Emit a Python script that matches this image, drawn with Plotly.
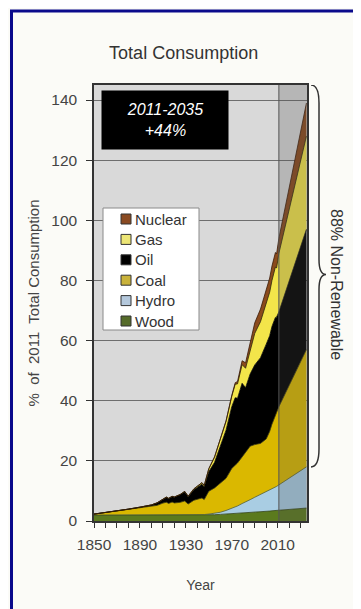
import plotly.graph_objects as go

years = [1850, 1860, 1870, 1880, 1890, 1900, 1905, 1910, 1913, 1915, 1918, 1920, 1925, 1929,
         1932, 1937, 1940, 1944, 1946, 1950, 1955, 1960, 1965, 1970, 1973, 1975, 1979, 1982,
         1986, 1990, 1995, 2000, 2003, 2005, 2008, 2009, 2011, 2035]
wood = [2.0, 2.0, 2.0, 2.0, 2.0, 1.9, 1.9, 1.9, 1.9, 1.9, 1.9, 1.9, 1.9, 1.9,
        1.9, 1.9, 1.9, 1.9, 1.9, 2.0, 2.1, 2.2, 2.3, 2.4, 2.5, 2.5, 2.6, 2.7,
        2.8, 2.9, 3.0, 3.2, 3.3, 3.4, 3.5, 3.6, 3.7, 4.3]
hydro = [0, 0, 0, 0, 0, 0, 0, 0.05, 0.05, 0.05, 0.1, 0.1, 0.1, 0.15,
         0.15, 0.2, 0.2, 0.25, 0.25, 0.3, 0.4, 0.7, 1.2, 1.8, 2.2, 2.5, 3.2, 3.6,
         4.3, 5.0, 5.8, 6.6, 7.0, 7.3, 7.7, 7.9, 8.3, 13.7]
coal = [0.3, 0.8, 1.3, 1.9, 2.5, 3.0, 3.3, 4.0, 4.3, 3.9, 4.3, 4.0, 4.2, 4.6,
        3.6, 4.8, 5.2, 5.5, 5.0, 7.6, 8.5, 9.7, 10.7, 13.3, 13.8, 14.3, 15.5, 16.5,
        17.8, 17.5, 17.0, 17.5, 19.5, 21.5, 24.0, 24.5, 26.0, 39.0]
oil = [0, 0, 0.02, 0.05, 0.1, 0.4, 0.8, 1.2, 1.6, 1.6, 1.8, 1.9, 2.5, 3.0,
       2.4, 3.5, 3.8, 4.6, 4.2, 6.5, 8.5, 11.9, 16.0, 20.5, 22.5, 21.5, 24.5, 21.5,
       24.0, 26.5, 28.5, 31.5, 31.8, 32.5, 32.5, 31.8, 31.5, 40.0]
gas = [0, 0, 0, 0, 0, 0.05, 0.05, 0.1, 0.1, 0.1, 0.1, 0.1, 0.1, 0.2,
       0.2, 0.3, 0.4, 0.5, 0.5, 1.0, 1.8, 2.5, 3.0, 3.5, 4.5, 4.8, 6.2, 6.5,
       8.0, 10.5, 12.0, 13.5, 14.5, 15.3, 16.8, 16.3, 19.5, 31.0]
nuclear = [0, 0, 0, 0, 0, 0, 0, 0, 0, 0, 0, 0, 0, 0,
           0, 0, 0, 0, 0, 0, 0, 0, 0.1, 0.3, 0.5, 0.8, 1.3, 1.8,
           2.6, 3.5, 4.2, 4.6, 4.7, 4.8, 4.8, 4.7, 5.0, 11.0]

series_names = ["Wood", "Hydro", "Coal", "Oil", "Gas", "Nuclear"]
series_values = [wood, hydro, coal, oil, gas, nuclear]
fill_colors = ["#5b7a1e", "#a9cde3", "#dab800", "#000000", "#f3e54a", "#8b4a1c"]
line_colors = ["#2f4010", "#4e5e3a", "#3e3800", "#000000", "#2e2a00", "#3a1a08"]
legend_swatch = ["#556b2a", "#b4c8dc", "#c9b23a", "#000000", "#ede676", "#8a4a22"]

x_tick_labels = [1850, 1890, 1930, 1970, 2010]
y_tick_labels = [0, 20, 40, 60, 80, 100, 120, 140]
proj_start, proj_end = 2011, 2035
brace_bottom = wood[-1] + hydro[-1]
y_max = 145

FONT = "Liberation Sans, Arial, sans-serif"

# the page body adds an 8px margin; figure coordinates below are page coords minus OFF
OFF = 8
W, H = 353, 601
ml, mr, mt, mb = 86, 54, 77, 88
pw, ph = W - ml - mr, H - mt - mb


def px(x):  # page x -> paper
    return (x - OFF - ml) / pw


def py(y):  # page y -> paper
    return 1 - (y - OFF - mt) / ph


fig = go.Figure()
for name, vals, fc, lc in zip(series_names, series_values, fill_colors, line_colors):
    fig.add_trace(go.Scatter(
        x=years, y=vals, name=name, stackgroup="one", mode="lines",
        line=dict(color=lc, width=0.8), fillcolor=fc, showlegend=False,
    ))

# curly brace (x in paper units, y in data units)
bx0, bx1, bx2 = px(311), px(319), px(326)
ymid = 82
brace = (f"M {bx0},{y_max} Q {bx1},{y_max} {bx1},{y_max-6} "
         f"L {bx1},{ymid+5} Q {bx1},{ymid} {bx2},{ymid} "
         f"Q {bx1},{ymid} {bx1},{ymid-5} "
         f"L {bx1},{brace_bottom+6} Q {bx1},{brace_bottom} {bx0},{brace_bottom}")

shapes = [
    dict(type="rect", xref="x", yref="y", x0=proj_start, x1=2035.5, y0=0, y1=y_max,
         fillcolor="rgba(80,80,80,0.25)", line=dict(width=0), layer="above"),
    dict(type="line", xref="x", yref="y", x0=proj_start, x1=proj_start, y0=0, y1=y_max,
         line=dict(color="#555555", width=1), layer="above"),
    dict(type="path", xref="paper", yref="y", path=brace,
         line=dict(color="#333333", width=1.5)),
    dict(type="rect", xref="paper", yref="paper", x0=px(11.5), y0=py(900),
         x1=px(700), y1=py(11), line=dict(color="#0a0a8c", width=3),
         fillcolor="rgba(0,0,0,0)", layer="above"),
    # legend box
    dict(type="rect", xref="paper", yref="paper", x0=px(103), x1=px(199),
         y0=py(330), y1=py(208), fillcolor="#ffffff",
         line=dict(color="#8a8a8a", width=1), layer="above"),
]

annotations = [
    dict(text="<i>2011-2035<br>+44%</i>", xref="paper", yref="paper",
         x=px(165), y=py(119.5), xanchor="center", yanchor="middle",
         showarrow=False, bgcolor="#000000", width=124, height=56,
         font=dict(family=FONT, size=16, color="#ffffff")),
    dict(text="88% Non-Renewable", xref="paper", yref="paper",
         x=px(337), y=py(284), xanchor="center", yanchor="middle",
         textangle=90, showarrow=False,
         font=dict(family=FONT, size=16, color="#333333")),
]

# legend entries (top to bottom: Nuclear ... Wood)
for i, (name, sw) in enumerate(zip(series_names[::-1], legend_swatch[::-1])):
    yc = 219 + i * 20.4
    shapes.append(dict(type="rect", xref="paper", yref="paper",
                       x0=px(121), x1=px(131), y0=py(yc + 5), y1=py(yc - 5),
                       fillcolor=sw, line=dict(color="#333333", width=1),
                       layer="above"))
    annotations.append(dict(text=name, xref="paper", yref="paper",
                            x=px(133), y=py(yc), xanchor="left", yanchor="middle",
                            showarrow=False,
                            font=dict(family=FONT, size=15, color="#333333")))

fig.update_layout(
    width=W, height=H,
    margin=dict(l=ml, r=mr, t=mt, b=mb),
    paper_bgcolor="#fbfbf7",
    plot_bgcolor="#d9d9d9",
    font=dict(family=FONT, color="#333333"),
    title=dict(text="Total Consumption", x=px(200), xanchor="center",
               y=1 - (53 - OFF) / H, yanchor="middle",
               font=dict(family=FONT, size=18, color="#333333")),
    showlegend=False,
    xaxis=dict(range=[1850, 2035.5], tickvals=x_tick_labels, ticks="outside",
               ticklen=5, tickcolor="#333", showgrid=False, showline=True,
               linecolor="#333", linewidth=1.5, mirror=True, zeroline=False,
               ticklabelstandoff=4,
               tickfont=dict(family=FONT, size=15.5, color="#444"),
               minor=dict(dtick=10, tick0=1850, ticks="outside", ticklen=5,
                          tickcolor="#333", showgrid=False),
               title=dict(text="Year", standoff=28,
                          font=dict(family=FONT, size=14, color="#444"))),
    yaxis=dict(range=[0, y_max], tickvals=y_tick_labels, ticks="outside",
               ticklen=6, tickcolor="#333", showgrid=True, gridcolor="#6e6e6e",
               gridwidth=1, showline=True, linecolor="#333", linewidth=1.5,
               mirror=True, zeroline=False, ticklabelstandoff=6,
               tickfont=dict(family=FONT, size=15.5, color="#444"),
               title=dict(text="%  of  2011  Total Consumption", standoff=8,
                          font=dict(family=FONT, size=15, color="#444"))),
    shapes=shapes,
    annotations=annotations,
)

fig.write_html("out.html")
